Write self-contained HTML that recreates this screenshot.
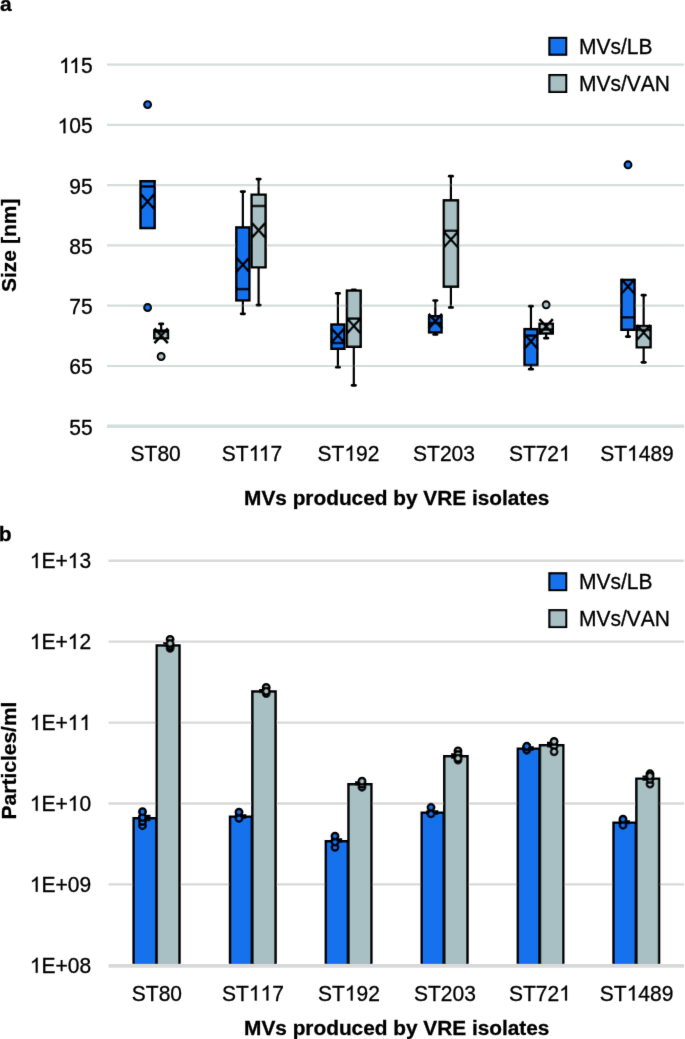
<!DOCTYPE html>
<html><head><meta charset="utf-8"><title>MVs produced by VRE isolates</title>
<style>html,body{margin:0;padding:0;background:#fff;overflow:hidden;}svg{display:block;}text{font-kerning:none;}text.k{font-kerning:normal;}</style></head>
<body>
<svg width="685" height="1039" viewBox="0 0 685 1039" font-family="'Liberation Sans', sans-serif" fill="#000">
<defs><filter id="soft" x="0" y="0" width="685" height="1039" filterUnits="userSpaceOnUse"><feConvolveMatrix order="3" kernelMatrix="0.00524 0.06192 0.00524 0.06192 0.73137 0.06192 0.00524 0.06192 0.00524" edgeMode="none"/></filter></defs>
<rect width="685" height="1039" fill="#fff"/>
<g filter="url(#soft)">
<line x1="107" y1="64.6" x2="684" y2="64.6" stroke="#d4dedc" stroke-width="2.2"/>
<line x1="107" y1="124.9" x2="684" y2="124.9" stroke="#d4dedc" stroke-width="2.2"/>
<line x1="107" y1="185.2" x2="684" y2="185.2" stroke="#d4dedc" stroke-width="2.2"/>
<line x1="107" y1="245.4" x2="684" y2="245.4" stroke="#d4dedc" stroke-width="2.2"/>
<line x1="107" y1="305.7" x2="684" y2="305.7" stroke="#d4dedc" stroke-width="2.2"/>
<line x1="107" y1="366.0" x2="684" y2="366.0" stroke="#d4dedc" stroke-width="2.2"/>
<line x1="107" y1="426.2" x2="684" y2="426.2" stroke="#d4dedc" stroke-width="3.5"/>
<g transform="translate(92.60,72.90) scale(1.0,1.042)"><text x="-11.689" font-size="21" stroke="#000" stroke-width="0.3">5</text><path transform="translate(-33.477,0) scale(0.010254,-0.010254)" d="M763,0H583V1098Q518,1038 412.5,979Q307,920 223,890V1057Q374,1124 487,1221Q600,1318 647,1409H763Z" stroke="#000" stroke-width="29.26"/><path transform="translate(-23.364,0) scale(0.010254,-0.010254)" d="M763,0H583V1098Q518,1038 412.5,979Q307,920 223,890V1057Q374,1124 487,1221Q600,1318 647,1409H763Z" stroke="#000" stroke-width="29.26"/></g>
<g transform="translate(92.60,133.20) scale(1.0,1.042)"><text x="-23.364 -11.689" font-size="21" stroke="#000" stroke-width="0.3">05</text><path transform="translate(-35.038,0) scale(0.010254,-0.010254)" d="M763,0H583V1098Q518,1038 412.5,979Q307,920 223,890V1057Q374,1124 487,1221Q600,1318 647,1409H763Z" stroke="#000" stroke-width="29.26"/></g>
<text class="k" transform="translate(92.60,193.50) scale(1.0,1.042)" text-anchor="end" font-size="21" stroke="#000" stroke-width="0.3">95</text>
<text class="k" transform="translate(92.60,253.70) scale(1.0,1.042)" text-anchor="end" font-size="21" stroke="#000" stroke-width="0.3">85</text>
<text class="k" transform="translate(92.60,314.00) scale(1.0,1.042)" text-anchor="end" font-size="21" stroke="#000" stroke-width="0.3">75</text>
<text class="k" transform="translate(92.60,374.30) scale(1.0,1.042)" text-anchor="end" font-size="21" stroke="#000" stroke-width="0.3">65</text>
<text class="k" transform="translate(92.60,434.50) scale(1.0,1.042)" text-anchor="end" font-size="21" stroke="#000" stroke-width="0.3">55</text>
<rect x="140.55" y="181.25" width="14.10" height="46.80" fill="#1272ec"/>
<line x1="140.55" y1="186.4" x2="154.65" y2="186.4" stroke="#000" stroke-width="2.5"/>
<path d="M140.90,194.20L154.30,209.00M140.90,209.00L154.30,194.20" stroke="#000" stroke-width="2.5" fill="none"/>
<rect x="140.55" y="181.25" width="14.10" height="46.80" fill="none" stroke="#000" stroke-width="2.5"/>
<circle cx="147.60" cy="104.6" r="3.4" fill="#1272ec" stroke="#000" stroke-width="2.1"/>
<circle cx="147.60" cy="307.5" r="3.4" fill="#1272ec" stroke="#000" stroke-width="2.1"/>
<line x1="242.85" y1="191.6" x2="242.85" y2="227.2" stroke="#000" stroke-width="2.2"/>
<line x1="241.15" y1="191.6" x2="244.55" y2="191.6" stroke="#000" stroke-width="2.7" stroke-linecap="round"/>
<line x1="242.85" y1="300.6" x2="242.85" y2="313.8" stroke="#000" stroke-width="2.2"/>
<line x1="241.15" y1="313.8" x2="244.55" y2="313.8" stroke="#000" stroke-width="2.7" stroke-linecap="round"/>
<rect x="236.35" y="227.45" width="13.00" height="72.90" fill="#1272ec"/>
<line x1="236.35" y1="289.1" x2="249.35" y2="289.1" stroke="#000" stroke-width="2.5"/>
<path d="M236.15,257.30L249.55,272.10M236.15,272.10L249.55,257.30" stroke="#000" stroke-width="2.5" fill="none"/>
<rect x="236.35" y="227.45" width="13.00" height="72.90" fill="none" stroke="#000" stroke-width="2.5"/>
<line x1="337.90" y1="293.3" x2="337.90" y2="324.3" stroke="#000" stroke-width="2.2"/>
<line x1="336.20" y1="293.3" x2="339.60" y2="293.3" stroke="#000" stroke-width="2.7" stroke-linecap="round"/>
<line x1="337.90" y1="349.0" x2="337.90" y2="367.2" stroke="#000" stroke-width="2.2"/>
<line x1="336.20" y1="367.2" x2="339.60" y2="367.2" stroke="#000" stroke-width="2.7" stroke-linecap="round"/>
<rect x="331.45" y="324.55" width="12.90" height="24.20" fill="#1272ec"/>
<line x1="331.45" y1="343.0" x2="344.35" y2="343.0" stroke="#000" stroke-width="2.5"/>
<path d="M331.20,328.10L344.60,342.90M331.20,342.90L344.60,328.10" stroke="#000" stroke-width="2.5" fill="none"/>
<rect x="331.45" y="324.55" width="12.90" height="24.20" fill="none" stroke="#000" stroke-width="2.5"/>
<line x1="435.33" y1="300.5" x2="435.33" y2="316.0" stroke="#000" stroke-width="2.2"/>
<line x1="433.63" y1="300.5" x2="437.03" y2="300.5" stroke="#000" stroke-width="2.7" stroke-linecap="round"/>
<line x1="435.33" y1="332.6" x2="435.33" y2="334.5" stroke="#000" stroke-width="2.2"/>
<line x1="433.63" y1="334.5" x2="437.03" y2="334.5" stroke="#000" stroke-width="2.7" stroke-linecap="round"/>
<rect x="429.10" y="316.25" width="12.45" height="16.10" fill="#1272ec"/>
<line x1="429.10" y1="323.0" x2="441.55" y2="323.0" stroke="#000" stroke-width="2.5"/>
<path d="M428.63,313.80L442.03,328.60M428.63,328.60L442.03,313.80" stroke="#000" stroke-width="2.5" fill="none"/>
<rect x="429.10" y="316.25" width="12.45" height="16.10" fill="none" stroke="#000" stroke-width="2.5"/>
<line x1="530.95" y1="306.2" x2="530.95" y2="328.9" stroke="#000" stroke-width="2.2"/>
<line x1="529.25" y1="306.2" x2="532.65" y2="306.2" stroke="#000" stroke-width="2.7" stroke-linecap="round"/>
<line x1="530.95" y1="365.3" x2="530.95" y2="369.2" stroke="#000" stroke-width="2.2"/>
<line x1="529.25" y1="369.2" x2="532.65" y2="369.2" stroke="#000" stroke-width="2.7" stroke-linecap="round"/>
<rect x="524.55" y="329.15" width="12.80" height="35.90" fill="#1272ec"/>
<line x1="524.55" y1="335.6" x2="537.35" y2="335.6" stroke="#000" stroke-width="2.5"/>
<path d="M524.25,334.00L537.65,348.80M524.25,348.80L537.65,334.00" stroke="#000" stroke-width="2.5" fill="none"/>
<rect x="524.55" y="329.15" width="12.80" height="35.90" fill="none" stroke="#000" stroke-width="2.5"/>
<line x1="628.00" y1="330.0" x2="628.00" y2="336.6" stroke="#000" stroke-width="2.2"/>
<line x1="626.30" y1="336.6" x2="629.70" y2="336.6" stroke="#000" stroke-width="2.7" stroke-linecap="round"/>
<rect x="621.45" y="279.95" width="13.10" height="49.80" fill="#1272ec"/>
<line x1="621.45" y1="317.3" x2="634.55" y2="317.3" stroke="#000" stroke-width="2.5"/>
<path d="M621.30,279.20L634.70,294.00M621.30,294.00L634.70,279.20" stroke="#000" stroke-width="2.5" fill="none"/>
<rect x="621.45" y="279.95" width="13.10" height="49.80" fill="none" stroke="#000" stroke-width="2.5"/>
<circle cx="628.00" cy="164.8" r="3.4" fill="#1272ec" stroke="#000" stroke-width="2.1"/>
<line x1="161.15" y1="323.9" x2="161.15" y2="330.4" stroke="#000" stroke-width="2.2"/>
<line x1="159.45" y1="323.9" x2="162.85" y2="323.9" stroke="#000" stroke-width="2.7" stroke-linecap="round"/>
<rect x="154.35" y="330.65" width="13.60" height="7.60" fill="#a8c0c3"/>
<line x1="154.35" y1="331.5" x2="167.95" y2="331.5" stroke="#000" stroke-width="2.5"/>
<path d="M154.45,328.40L167.85,343.20M154.45,343.20L167.85,328.40" stroke="#000" stroke-width="2.5" fill="none"/>
<rect x="154.35" y="330.65" width="13.60" height="7.60" fill="none" stroke="#000" stroke-width="2.5"/>
<circle cx="161.15" cy="356.5" r="3.4" fill="#a8c0c3" stroke="#000" stroke-width="2.1"/>
<line x1="258.60" y1="179.1" x2="258.60" y2="194.5" stroke="#000" stroke-width="2.2"/>
<line x1="256.90" y1="179.1" x2="260.30" y2="179.1" stroke="#000" stroke-width="2.7" stroke-linecap="round"/>
<line x1="258.60" y1="267.5" x2="258.60" y2="305.1" stroke="#000" stroke-width="2.2"/>
<line x1="256.90" y1="305.1" x2="260.30" y2="305.1" stroke="#000" stroke-width="2.7" stroke-linecap="round"/>
<rect x="251.65" y="194.75" width="13.90" height="72.50" fill="#a8c0c3"/>
<line x1="251.65" y1="206.0" x2="265.55" y2="206.0" stroke="#000" stroke-width="2.5"/>
<path d="M251.90,222.80L265.30,237.60M251.90,237.60L265.30,222.80" stroke="#000" stroke-width="2.5" fill="none"/>
<rect x="251.65" y="194.75" width="13.90" height="72.50" fill="none" stroke="#000" stroke-width="2.5"/>
<line x1="353.80" y1="289.8" x2="353.80" y2="290.4" stroke="#000" stroke-width="2.2"/>
<line x1="352.10" y1="289.8" x2="355.50" y2="289.8" stroke="#000" stroke-width="2.7" stroke-linecap="round"/>
<line x1="353.80" y1="347.0" x2="353.80" y2="385.3" stroke="#000" stroke-width="2.2"/>
<line x1="352.10" y1="385.3" x2="355.50" y2="385.3" stroke="#000" stroke-width="2.7" stroke-linecap="round"/>
<rect x="346.95" y="290.65" width="13.70" height="56.10" fill="#a8c0c3"/>
<line x1="346.95" y1="318.6" x2="360.65" y2="318.6" stroke="#000" stroke-width="2.5"/>
<path d="M347.10,318.50L360.50,333.30M347.10,333.30L360.50,318.50" stroke="#000" stroke-width="2.5" fill="none"/>
<rect x="346.95" y="290.65" width="13.70" height="56.10" fill="none" stroke="#000" stroke-width="2.5"/>
<line x1="450.90" y1="176.2" x2="450.90" y2="200.1" stroke="#000" stroke-width="2.2"/>
<line x1="449.20" y1="176.2" x2="452.60" y2="176.2" stroke="#000" stroke-width="2.7" stroke-linecap="round"/>
<line x1="450.90" y1="286.9" x2="450.90" y2="307.4" stroke="#000" stroke-width="2.2"/>
<line x1="449.20" y1="307.4" x2="452.60" y2="307.4" stroke="#000" stroke-width="2.7" stroke-linecap="round"/>
<rect x="443.85" y="200.35" width="14.10" height="86.30" fill="#a8c0c3"/>
<line x1="443.85" y1="230.8" x2="457.95" y2="230.8" stroke="#000" stroke-width="2.5"/>
<path d="M444.20,232.20L457.60,247.00M444.20,247.00L457.60,232.20" stroke="#000" stroke-width="2.5" fill="none"/>
<rect x="443.85" y="200.35" width="14.10" height="86.30" fill="none" stroke="#000" stroke-width="2.5"/>
<line x1="546.15" y1="333.7" x2="546.15" y2="338.2" stroke="#000" stroke-width="2.2"/>
<line x1="544.45" y1="338.2" x2="547.85" y2="338.2" stroke="#000" stroke-width="2.7" stroke-linecap="round"/>
<rect x="539.55" y="323.85" width="13.20" height="9.60" fill="#a8c0c3"/>
<line x1="539.55" y1="329.5" x2="552.75" y2="329.5" stroke="#000" stroke-width="2.5"/>
<path d="M539.45,319.10L552.85,333.90M539.45,333.90L552.85,319.10" stroke="#000" stroke-width="2.5" fill="none"/>
<rect x="539.55" y="323.85" width="13.20" height="9.60" fill="none" stroke="#000" stroke-width="2.5"/>
<circle cx="546.15" cy="304.8" r="3.4" fill="#a8c0c3" stroke="#000" stroke-width="2.1"/>
<line x1="643.65" y1="295.2" x2="643.65" y2="325.8" stroke="#000" stroke-width="2.2"/>
<line x1="641.95" y1="295.2" x2="645.35" y2="295.2" stroke="#000" stroke-width="2.7" stroke-linecap="round"/>
<line x1="643.65" y1="347.5" x2="643.65" y2="362.3" stroke="#000" stroke-width="2.2"/>
<line x1="641.95" y1="362.3" x2="645.35" y2="362.3" stroke="#000" stroke-width="2.7" stroke-linecap="round"/>
<rect x="636.75" y="326.05" width="13.80" height="21.20" fill="#a8c0c3"/>
<line x1="636.75" y1="330.0" x2="650.55" y2="330.0" stroke="#000" stroke-width="2.5"/>
<path d="M636.95,325.20L650.35,340.00M636.95,340.00L650.35,325.20" stroke="#000" stroke-width="2.5" fill="none"/>
<rect x="636.75" y="326.05" width="13.80" height="21.20" fill="none" stroke="#000" stroke-width="2.5"/>
<rect x="549.4" y="37.9" width="16.8" height="16.8" fill="#1272ec" stroke="#000" stroke-width="2.2"/>
<rect x="549.4" y="75.1" width="16.8" height="16.8" fill="#a8c0c3" stroke="#000" stroke-width="2.2"/>
<text transform="translate(579.00,53.80) scale(1.0,1.042)" font-size="21" stroke="#000" stroke-width="0.3">MVs/LB</text>
<text transform="translate(579.00,91.00) scale(1.0,1.042)" font-size="21" stroke="#000" stroke-width="0.3">MVs/VAN</text>
<text class="k" transform="translate(155.70,460.65) scale(1.0,1.042)" text-anchor="middle" font-size="21" stroke="#000" stroke-width="0.3">ST80</text>
<g transform="translate(252.00,460.65) scale(1.0,1.042)"><text x="-30.149 -16.150 18.460" font-size="21" stroke="#000" stroke-width="0.3">ST7</text><path transform="translate(-3.328,0) scale(0.010254,-0.010254)" d="M763,0H583V1098Q518,1038 412.5,979Q307,920 223,890V1057Q374,1124 487,1221Q600,1318 647,1409H763Z" stroke="#000" stroke-width="29.26"/><path transform="translate(6.786,0) scale(0.010254,-0.010254)" d="M763,0H583V1098Q518,1038 412.5,979Q307,920 223,890V1057Q374,1124 487,1221Q600,1318 647,1409H763Z" stroke="#000" stroke-width="29.26"/></g>
<g transform="translate(348.50,460.65) scale(1.0,1.042)"><text x="-30.930 -16.930 7.566 19.240" font-size="21" stroke="#000" stroke-width="0.3">ST92</text><path transform="translate(-4.108,0) scale(0.010254,-0.010254)" d="M763,0H583V1098Q518,1038 412.5,979Q307,920 223,890V1057Q374,1124 487,1221Q600,1318 647,1409H763Z" stroke="#000" stroke-width="29.26"/></g>
<text class="k" transform="translate(444.00,460.65) scale(1.0,1.042)" text-anchor="middle" font-size="21" stroke="#000" stroke-width="0.3">ST203</text>
<g transform="translate(539.80,460.65) scale(1.0,1.042)"><text x="-30.930 -16.930 -4.108 7.566" font-size="21" stroke="#000" stroke-width="0.3">ST72</text><path transform="translate(19.240,0) scale(0.010254,-0.010254)" d="M763,0H583V1098Q518,1038 412.5,979Q307,920 223,890V1057Q374,1124 487,1221Q600,1318 647,1409H763Z" stroke="#000" stroke-width="29.26"/></g>
<g transform="translate(637.00,460.65) scale(1.0,1.042)"><text x="-36.767 -22.767 1.729 13.403 25.077" font-size="21" stroke="#000" stroke-width="0.3">ST489</text><path transform="translate(-9.945,0) scale(0.010254,-0.010254)" d="M763,0H583V1098Q518,1038 412.5,979Q307,920 223,890V1057Q374,1124 487,1221Q600,1318 647,1409H763Z" stroke="#000" stroke-width="29.26"/></g>
<text transform="translate(396.75,504.60) scale(0.9915,1.0)" text-anchor="middle" font-size="21" font-weight="bold" stroke="#000" stroke-width="0.3">MVs produced by VRE isolates</text>
<text transform="translate(15.60,245.30) rotate(-90) scale(1.0,1.0)" text-anchor="middle" font-size="21" font-weight="bold" stroke="#000" stroke-width="0.3">Size [nm]</text>
<text transform="translate(0.00,10.60) scale(1.0,1.0)" font-size="21" font-weight="bold" stroke="#000" stroke-width="0.3">a</text>
<line x1="108.5" y1="560.7" x2="684" y2="560.7" stroke="#d9d9d9" stroke-width="2.4"/>
<line x1="108.5" y1="641.6" x2="684" y2="641.6" stroke="#d9d9d9" stroke-width="2.4"/>
<line x1="108.5" y1="722.6" x2="684" y2="722.6" stroke="#d9d9d9" stroke-width="2.4"/>
<line x1="108.5" y1="803.5" x2="684" y2="803.5" stroke="#d9d9d9" stroke-width="2.4"/>
<line x1="108.5" y1="884.4" x2="684" y2="884.4" stroke="#d9d9d9" stroke-width="2.4"/>
<g transform="translate(91.10,568.00) scale(1.0,1.042)"><text x="-49.619 -35.619 -11.689" font-size="21" stroke="#000" stroke-width="0.3">E+3</text><path transform="translate(-61.293,0) scale(0.010254,-0.010254)" d="M763,0H583V1098Q518,1038 412.5,979Q307,920 223,890V1057Q374,1124 487,1221Q600,1318 647,1409H763Z" stroke="#000" stroke-width="29.26"/><path transform="translate(-23.364,0) scale(0.010254,-0.010254)" d="M763,0H583V1098Q518,1038 412.5,979Q307,920 223,890V1057Q374,1124 487,1221Q600,1318 647,1409H763Z" stroke="#000" stroke-width="29.26"/></g>
<g transform="translate(91.10,648.90) scale(1.0,1.042)"><text x="-49.619 -35.619 -11.689" font-size="21" stroke="#000" stroke-width="0.3">E+2</text><path transform="translate(-61.293,0) scale(0.010254,-0.010254)" d="M763,0H583V1098Q518,1038 412.5,979Q307,920 223,890V1057Q374,1124 487,1221Q600,1318 647,1409H763Z" stroke="#000" stroke-width="29.26"/><path transform="translate(-23.364,0) scale(0.010254,-0.010254)" d="M763,0H583V1098Q518,1038 412.5,979Q307,920 223,890V1057Q374,1124 487,1221Q600,1318 647,1409H763Z" stroke="#000" stroke-width="29.26"/></g>
<g transform="translate(91.10,729.90) scale(1.0,1.042)"><text x="-49.619 -35.619" font-size="21" stroke="#000" stroke-width="0.3">E+</text><path transform="translate(-61.293,0) scale(0.010254,-0.010254)" d="M763,0H583V1098Q518,1038 412.5,979Q307,920 223,890V1057Q374,1124 487,1221Q600,1318 647,1409H763Z" stroke="#000" stroke-width="29.26"/><path transform="translate(-23.364,0) scale(0.010254,-0.010254)" d="M763,0H583V1098Q518,1038 412.5,979Q307,920 223,890V1057Q374,1124 487,1221Q600,1318 647,1409H763Z" stroke="#000" stroke-width="29.26"/><path transform="translate(-11.689,0) scale(0.010254,-0.010254)" d="M763,0H583V1098Q518,1038 412.5,979Q307,920 223,890V1057Q374,1124 487,1221Q600,1318 647,1409H763Z" stroke="#000" stroke-width="29.26"/></g>
<g transform="translate(91.10,810.80) scale(1.0,1.042)"><text x="-49.619 -35.619 -11.689" font-size="21" stroke="#000" stroke-width="0.3">E+0</text><path transform="translate(-61.293,0) scale(0.010254,-0.010254)" d="M763,0H583V1098Q518,1038 412.5,979Q307,920 223,890V1057Q374,1124 487,1221Q600,1318 647,1409H763Z" stroke="#000" stroke-width="29.26"/><path transform="translate(-23.364,0) scale(0.010254,-0.010254)" d="M763,0H583V1098Q518,1038 412.5,979Q307,920 223,890V1057Q374,1124 487,1221Q600,1318 647,1409H763Z" stroke="#000" stroke-width="29.26"/></g>
<g transform="translate(91.10,891.70) scale(1.0,1.042)"><text x="-49.619 -35.619 -23.364 -11.689" font-size="21" stroke="#000" stroke-width="0.3">E+09</text><path transform="translate(-61.293,0) scale(0.010254,-0.010254)" d="M763,0H583V1098Q518,1038 412.5,979Q307,920 223,890V1057Q374,1124 487,1221Q600,1318 647,1409H763Z" stroke="#000" stroke-width="29.26"/></g>
<g transform="translate(91.10,972.80) scale(1.0,1.042)"><text x="-49.619 -35.619 -23.364 -11.689" font-size="21" stroke="#000" stroke-width="0.3">E+08</text><path transform="translate(-61.293,0) scale(0.010254,-0.010254)" d="M763,0H583V1098Q518,1038 412.5,979Q307,920 223,890V1057Q374,1124 487,1221Q600,1318 647,1409H763Z" stroke="#000" stroke-width="29.26"/></g>
<rect x="133.65" y="818.15" width="22.55" height="146.85" fill="#1272ec"/>
<path d="M133.65,965.0V818.15H156.20V965.0" fill="none" stroke="#000" stroke-width="2.5"/>
<rect x="156.80" y="645.45" width="22.65" height="319.55" fill="#a8c0c3"/>
<path d="M156.80,965.0V645.45H179.45V965.0" fill="none" stroke="#000" stroke-width="2.5"/>
<rect x="230.05" y="816.75" width="21.75" height="148.25" fill="#1272ec"/>
<path d="M230.05,965.0V816.75H251.80V965.0" fill="none" stroke="#000" stroke-width="2.5"/>
<rect x="252.40" y="691.45" width="23.15" height="273.55" fill="#a8c0c3"/>
<path d="M252.40,965.0V691.45H275.55V965.0" fill="none" stroke="#000" stroke-width="2.5"/>
<rect x="325.85" y="841.35" width="22.05" height="123.65" fill="#1272ec"/>
<path d="M325.85,965.0V841.35H347.90V965.0" fill="none" stroke="#000" stroke-width="2.5"/>
<rect x="348.50" y="784.15" width="22.85" height="180.85" fill="#a8c0c3"/>
<path d="M348.50,965.0V784.15H371.35V965.0" fill="none" stroke="#000" stroke-width="2.5"/>
<rect x="421.75" y="812.75" width="21.95" height="152.25" fill="#1272ec"/>
<path d="M421.75,965.0V812.75H443.70V965.0" fill="none" stroke="#000" stroke-width="2.5"/>
<rect x="444.30" y="756.35" width="23.15" height="208.65" fill="#a8c0c3"/>
<path d="M444.30,965.0V756.35H467.45V965.0" fill="none" stroke="#000" stroke-width="2.5"/>
<rect x="517.85" y="748.75" width="21.55" height="216.25" fill="#1272ec"/>
<path d="M517.85,965.0V748.75H539.40V965.0" fill="none" stroke="#000" stroke-width="2.5"/>
<rect x="540.00" y="745.35" width="23.25" height="219.65" fill="#a8c0c3"/>
<path d="M540.00,965.0V745.35H563.25V965.0" fill="none" stroke="#000" stroke-width="2.5"/>
<rect x="613.55" y="822.85" width="22.25" height="142.15" fill="#1272ec"/>
<path d="M613.55,965.0V822.85H635.80V965.0" fill="none" stroke="#000" stroke-width="2.5"/>
<rect x="636.40" y="778.85" width="22.65" height="186.15" fill="#a8c0c3"/>
<path d="M636.40,965.0V778.85H659.05V965.0" fill="none" stroke="#000" stroke-width="2.5"/>
<line x1="108.5" y1="965.85" x2="684" y2="965.85" stroke="#d9d9d9" stroke-width="3.8"/>
<path d="M144.5,815.9V820.3M138.50,815.9H150.50M138.50,820.3H150.50" stroke="#000" stroke-width="2.1" fill="none"/>
<path d="M168.5,643.0V645.8M163.20,643.0H173.80M163.20,645.8H173.80" stroke="#000" stroke-width="2.1" fill="none"/>
<path d="M240.6,815.3V817.6M234.80,815.3H246.40M234.80,817.6H246.40" stroke="#000" stroke-width="2.1" fill="none"/>
<path d="M264.3,690.0V692.2M259.20,690.0H269.40M259.20,692.2H269.40" stroke="#000" stroke-width="2.1" fill="none"/>
<path d="M336.5,839.2V842.0M330.80,839.2H342.20M330.80,842.0H342.20" stroke="#000" stroke-width="2.1" fill="none"/>
<path d="M360.3,782.3V784.5M355.10,782.3H365.50M355.10,784.5H365.50" stroke="#000" stroke-width="2.1" fill="none"/>
<path d="M432.3,811.3V813.8M426.30,811.3H438.30M426.30,813.8H438.30" stroke="#000" stroke-width="2.1" fill="none"/>
<path d="M456.2,754.2V757.6M451.10,754.2H461.30M451.10,757.6H461.30" stroke="#000" stroke-width="2.1" fill="none"/>
<path d="M528.2,747.3V749.6M522.60,747.3H533.80M522.60,749.6H533.80" stroke="#000" stroke-width="2.1" fill="none"/>
<path d="M552.0,742.9V746.5M547.00,742.9H557.00M547.00,746.5H557.00" stroke="#000" stroke-width="2.1" fill="none"/>
<path d="M624.3,821.3V823.3M618.70,821.3H629.90M618.70,823.3H629.90" stroke="#000" stroke-width="2.1" fill="none"/>
<path d="M648.1,776.6V780.0M642.50,776.6H653.70M642.50,780.0H653.70" stroke="#000" stroke-width="2.1" fill="none"/>
<circle cx="142.5" cy="825.7" r="3.2" fill="#1272ec" stroke="#000" stroke-width="2.5"/>
<circle cx="142.5" cy="821.5" r="3.2" fill="#1272ec" stroke="#000" stroke-width="2.5"/>
<circle cx="142.5" cy="817.5" r="3.2" fill="#1272ec" stroke="#000" stroke-width="2.5"/>
<circle cx="142.5" cy="811.7" r="3.2" fill="#1272ec" stroke="#000" stroke-width="2.5"/>
<circle cx="170.1" cy="639.5" r="3.2" fill="#a8c0c3" stroke="#000" stroke-width="2.5"/>
<circle cx="170.1" cy="648.3" r="3.2" fill="#a8c0c3" stroke="#000" stroke-width="2.5"/>
<circle cx="170.1" cy="646.3" r="3.2" fill="#a8c0c3" stroke="#000" stroke-width="2.5"/>
<circle cx="170.1" cy="643.5" r="3.2" fill="#a8c0c3" stroke="#000" stroke-width="2.5"/>
<circle cx="239.0" cy="818.4" r="3.2" fill="#1272ec" stroke="#000" stroke-width="2.5"/>
<circle cx="239.0" cy="812.1" r="3.2" fill="#1272ec" stroke="#000" stroke-width="2.5"/>
<circle cx="266.2" cy="687.5" r="3.2" fill="#a8c0c3" stroke="#000" stroke-width="2.5"/>
<circle cx="266.2" cy="693.5" r="3.2" fill="#a8c0c3" stroke="#000" stroke-width="2.5"/>
<circle cx="266.2" cy="691.3" r="3.2" fill="#a8c0c3" stroke="#000" stroke-width="2.5"/>
<circle cx="335.0" cy="847.3" r="3.2" fill="#1272ec" stroke="#000" stroke-width="2.5"/>
<circle cx="335.0" cy="842.0" r="3.2" fill="#1272ec" stroke="#000" stroke-width="2.5"/>
<circle cx="335.0" cy="836.1" r="3.2" fill="#1272ec" stroke="#000" stroke-width="2.5"/>
<circle cx="362.0" cy="787.2" r="3.2" fill="#a8c0c3" stroke="#000" stroke-width="2.5"/>
<circle cx="362.0" cy="784.2" r="3.2" fill="#a8c0c3" stroke="#000" stroke-width="2.5"/>
<circle cx="362.0" cy="781.2" r="3.2" fill="#a8c0c3" stroke="#000" stroke-width="2.5"/>
<circle cx="431.0" cy="807.3" r="3.2" fill="#1272ec" stroke="#000" stroke-width="2.5"/>
<circle cx="431.0" cy="813.9" r="3.2" fill="#1272ec" stroke="#000" stroke-width="2.5"/>
<circle cx="458.0" cy="760.0" r="3.2" fill="#a8c0c3" stroke="#000" stroke-width="2.5"/>
<circle cx="458.0" cy="751.0" r="3.2" fill="#a8c0c3" stroke="#000" stroke-width="2.5"/>
<circle cx="458.0" cy="754.5" r="3.2" fill="#a8c0c3" stroke="#000" stroke-width="2.5"/>
<circle cx="458.0" cy="758.2" r="3.2" fill="#a8c0c3" stroke="#000" stroke-width="2.5"/>
<circle cx="526.8" cy="750.2" r="3.2" fill="#1272ec" stroke="#000" stroke-width="2.5"/>
<circle cx="526.8" cy="747.0" r="3.2" fill="#1272ec" stroke="#000" stroke-width="2.5"/>
<circle cx="526.8" cy="746.3" r="3.2" fill="#1272ec" stroke="#000" stroke-width="2.5"/>
<circle cx="554.1" cy="746.0" r="3.2" fill="#a8c0c3" stroke="#000" stroke-width="2.5"/>
<circle cx="554.1" cy="741.5" r="3.2" fill="#a8c0c3" stroke="#000" stroke-width="2.5"/>
<circle cx="554.1" cy="751.8" r="3.2" fill="#a8c0c3" stroke="#000" stroke-width="2.5"/>
<circle cx="623.0" cy="825.2" r="3.2" fill="#1272ec" stroke="#000" stroke-width="2.5"/>
<circle cx="623.0" cy="819.2" r="3.2" fill="#1272ec" stroke="#000" stroke-width="2.5"/>
<circle cx="650.0" cy="784.0" r="3.2" fill="#a8c0c3" stroke="#000" stroke-width="2.5"/>
<circle cx="650.0" cy="779.5" r="3.2" fill="#a8c0c3" stroke="#000" stroke-width="2.5"/>
<circle cx="650.0" cy="773.8" r="3.2" fill="#a8c0c3" stroke="#000" stroke-width="2.5"/>
<circle cx="650.0" cy="776.0" r="3.2" fill="#a8c0c3" stroke="#000" stroke-width="2.5"/>
<rect x="549.4" y="573.3" width="16.8" height="16.8" fill="#1272ec" stroke="#000" stroke-width="2.2"/>
<rect x="549.4" y="610.2" width="16.8" height="16.8" fill="#a8c0c3" stroke="#000" stroke-width="2.2"/>
<text transform="translate(579.00,589.20) scale(1.0,1.042)" font-size="21" stroke="#000" stroke-width="0.3">MVs/LB</text>
<text transform="translate(579.00,626.10) scale(1.0,1.042)" font-size="21" stroke="#000" stroke-width="0.3">MVs/VAN</text>
<text transform="translate(156.90,1000.50) scale(1.0,1.042)" text-anchor="middle" font-size="21" stroke="#000" stroke-width="0.3">ST80</text>
<g transform="translate(252.95,1000.50) scale(1.0,1.042)"><text x="-30.930 -16.930 19.240" font-size="21" stroke="#000" stroke-width="0.3">ST7</text><path transform="translate(-4.108,0) scale(0.010254,-0.010254)" d="M763,0H583V1098Q518,1038 412.5,979Q307,920 223,890V1057Q374,1124 487,1221Q600,1318 647,1409H763Z" stroke="#000" stroke-width="29.26"/><path transform="translate(7.566,0) scale(0.010254,-0.010254)" d="M763,0H583V1098Q518,1038 412.5,979Q307,920 223,890V1057Q374,1124 487,1221Q600,1318 647,1409H763Z" stroke="#000" stroke-width="29.26"/></g>
<g transform="translate(348.90,1000.50) scale(1.0,1.042)"><text x="-30.930 -16.930 7.566 19.240" font-size="21" stroke="#000" stroke-width="0.3">ST92</text><path transform="translate(-4.108,0) scale(0.010254,-0.010254)" d="M763,0H583V1098Q518,1038 412.5,979Q307,920 223,890V1057Q374,1124 487,1221Q600,1318 647,1409H763Z" stroke="#000" stroke-width="29.26"/></g>
<text transform="translate(444.90,1000.50) scale(1.0,1.042)" text-anchor="middle" font-size="21" stroke="#000" stroke-width="0.3">ST203</text>
<g transform="translate(539.90,1000.50) scale(1.0,1.042)"><text x="-30.930 -16.930 -4.108 7.566" font-size="21" stroke="#000" stroke-width="0.3">ST72</text><path transform="translate(19.240,0) scale(0.010254,-0.010254)" d="M763,0H583V1098Q518,1038 412.5,979Q307,920 223,890V1057Q374,1124 487,1221Q600,1318 647,1409H763Z" stroke="#000" stroke-width="29.26"/></g>
<g transform="translate(636.60,1000.50) scale(1.0,1.042)"><text x="-36.767 -22.767 1.729 13.403 25.077" font-size="21" stroke="#000" stroke-width="0.3">ST489</text><path transform="translate(-9.945,0) scale(0.010254,-0.010254)" d="M763,0H583V1098Q518,1038 412.5,979Q307,920 223,890V1057Q374,1124 487,1221Q600,1318 647,1409H763Z" stroke="#000" stroke-width="29.26"/></g>
<text transform="translate(396.75,1034.50) scale(0.9915,1.0)" text-anchor="middle" font-size="21" font-weight="bold" stroke="#000" stroke-width="0.3">MVs produced by VRE isolates</text>
<text transform="translate(15.80,760.50) rotate(-90) scale(1.0,1.0)" text-anchor="middle" font-size="21" font-weight="bold" stroke="#000" stroke-width="0.3">Particles/ml</text>
<text transform="translate(-1.30,540.80) scale(1.0,1.0)" font-size="21" font-weight="bold" stroke="#000" stroke-width="0.3">b</text>
</g>
</svg>
</body></html>
